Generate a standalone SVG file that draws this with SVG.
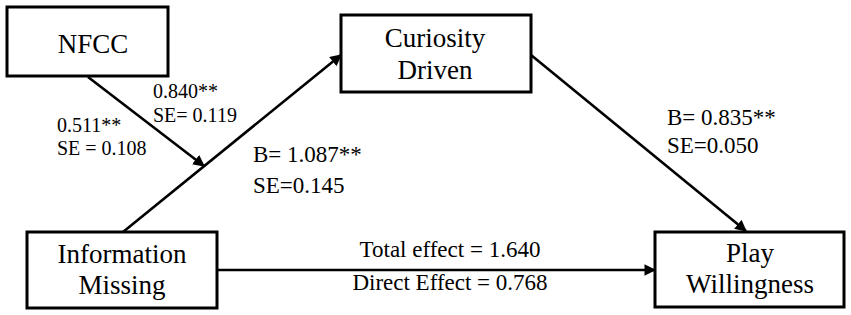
<svg xmlns="http://www.w3.org/2000/svg" width="851" height="315" viewBox="0 0 851 315">
<style>
.box{fill:#fff;stroke:#000;stroke-width:3}
.ln{stroke:#000;stroke-width:2.6;fill:none}
text{font-family:'Liberation Serif','Times New Roman',serif;fill:#000}
.nt{font-size:27px;text-anchor:middle}
.lb{font-size:23px}
.sm{font-size:20px}
</style>
<defs>
<marker id="ah" viewBox="0 0 10 10" refX="9" refY="5" markerWidth="4.5" markerHeight="4.5" markerUnits="strokeWidth" orient="auto">
<path d="M0,0 L10,5 L0,10 z" fill="#000"/>
</marker>
</defs>
<rect width="851" height="315" fill="#fff"/>
<g id="connectors">
<line class="ln" x1="123" y1="232" x2="341" y2="55" marker-end="url(#ah)"/>
<line class="ln" x1="88" y1="77" x2="204" y2="166" marker-end="url(#ah)"/>
<line class="ln" x1="531" y1="55" x2="746" y2="231" marker-end="url(#ah)"/>
<line class="ln" x1="217" y1="270" x2="655" y2="270" marker-end="url(#ah)"/>
</g>
<g id="nfcc">
<rect class="box" x="7" y="7" width="161" height="69"/>
<text class="nt" x="93" y="53">NFCC</text>
</g>
<g id="curiosity">
<rect class="box" x="341" y="15" width="190" height="77"/>
<text class="nt" x="435" y="47">Curiosity</text>
<text class="nt" x="435" y="79">Driven</text>
</g>
<g id="info">
<rect class="box" x="27" y="232" width="190" height="76"/>
<text class="nt" x="122" y="263">Information</text>
<text class="nt" x="122" y="294">Missing</text>
</g>
<g id="play">
<rect class="box" x="655" y="232" width="189" height="75"/>
<text class="nt" x="750" y="262">Play</text>
<text class="nt" x="750" y="293">Willingness</text>
</g>
<g id="labels">
<text class="sm" x="153" y="98">0.840**</text>
<text class="sm" x="153" y="122">SE= 0.119</text>
<text class="sm" x="57" y="132">0.511**</text>
<text class="sm" x="57" y="155">SE = 0.108</text>
<text class="lb" x="253" y="162">B= 1.087**</text>
<text class="lb" x="253" y="193">SE=0.145</text>
<text class="lb" x="667" y="125">B= 0.835**</text>
<text class="lb" x="667" y="153">SE=0.050</text>
<text class="lb" x="450" y="257" text-anchor="middle">Total effect = 1.640</text>
<text class="lb" x="450" y="290" text-anchor="middle">Direct Effect = 0.768</text>
</g>
</svg>
